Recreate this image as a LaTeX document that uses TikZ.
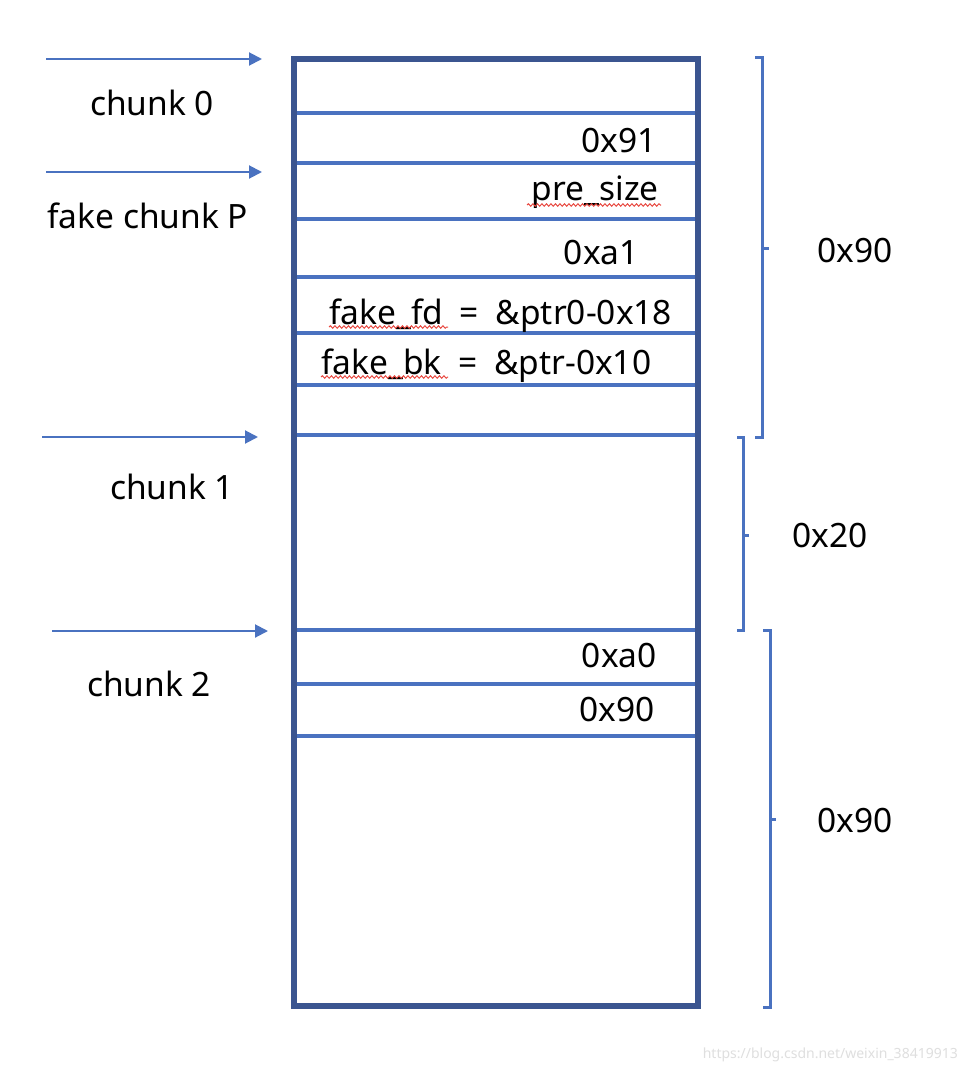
\documentclass[tikz,border=0pt]{standalone}
\usepackage{fontspec}
\setmainfont{Noto Sans}
\usetikzlibrary{arrows.meta,decorations.pathmorphing}
\definecolor{boxblue}{HTML}{3B5590}
\definecolor{lineblue}{HTML}{4A72C0}
\definecolor{squig}{HTML}{E8473F}
\begin{document}
\begin{tikzpicture}[x=1pt,y=-1pt,
  lbl/.style={inner sep=0pt, font=\fontsize{33.5}{40}\selectfont},
  sep/.style={draw=lineblue, line width=3.5pt},
  ptr/.style={draw=lineblue, line width=2pt, -{Triangle[length=13pt,width=13pt]}},
  brk/.style={draw=lineblue, line width=3pt},
  squiggle/.style={draw=squig, line width=1pt, decorate, decoration={snake, amplitude=1.2pt, segment length=4.5pt}}]
\useasboundingbox (0,0) rectangle (968,1070);
\fill[white] (0,0) rectangle (968,1070);
% separators
\foreach \yy [count=\i] in {113,163,219,277,333,385,435,630,684,736} {
  \coordinate (L\i) at (294,\yy);
  \coordinate (R\i) at (697,\yy);
  \draw[sep] (L\i) -- (R\i);
}
% outer box
\node[draw=boxblue, line width=5.5pt, minimum width=404pt, minimum height=947pt, inner sep=0pt, outer sep=0pt, anchor=north west] (mem) at (294,59) {};
% cell texts
\node[lbl, anchor=base east] (v91) at (657,153) {0x91};
\node[lbl, anchor=base east] (presz) at (659,200) {pre\_size};
\node[lbl, anchor=base east] (va1) at (639,264) {0xa1};
\node[lbl, anchor=base west] (ffd) at (329,324) {fake\_fd\hspace{8pt} =\hspace{8pt} \&ptr0-0x18};
\node[lbl, anchor=base west] (fbk) at (321,374) {fake\_bk\hspace{8pt} =\hspace{8pt} \&ptr-0x10};
\node[lbl, anchor=base east] (va0) at (657,667) {0xa0};
\node[lbl, anchor=base east] (v90) at (655,721) {0x90};
% squiggles
\coordinate (s1a) at (527,205); \coordinate (s1b) at (661,205);
\coordinate (s2a) at (329,327); \coordinate (s2b) at (448,327);
\coordinate (s3a) at (321,377); \coordinate (s3b) at (448,377);
\draw[squiggle] (s1a) -- (s1b);
\draw[squiggle] (s2a) -- (s2b);
\draw[squiggle] (s3a) -- (s3b);
% pointers
\coordinate (a0s) at (46,59);  \coordinate (a0e) at (262,59);
\coordinate (aPs) at (46,172); \coordinate (aPe) at (262,172);
\coordinate (a1s) at (42,437); \coordinate (a1e) at (258,437);
\coordinate (a2s) at (52,631); \coordinate (a2e) at (268,631);
\draw[ptr] (a0s) -- (a0e);
\draw[ptr] (aPs) -- (aPe);
\draw[ptr] (a1s) -- (a1e);
\draw[ptr] (a2s) -- (a2e);
\node[lbl, anchor=base west] (c0) at (90,116) {chunk 0};
\node[lbl, anchor=base west] (cP) at (47,228) {fake chunk P};
\node[lbl, anchor=base west] (c1) at (110,499) {chunk 1};
\node[lbl, anchor=base west] (c2) at (87,696) {chunk 2};
% brackets
\draw[brk] (755,58) -- (762,58) -- (762,437) -- (755,437);
\draw[brk] (762,248) -- (769,248);
\draw[brk] (737,437) -- (743,437) -- (743,630) -- (737,630);
\draw[brk] (743,535) -- (749,535);
\draw[brk] (763,630) -- (770,630) -- (770,1007) -- (763,1007);
\draw[brk] (770,819) -- (776,819);
\node[lbl, anchor=base west] (s90a) at (817,262) {0x90};
\node[lbl, anchor=base west] (s20) at (792,547) {0x20};
\node[lbl, anchor=base west] (s90b) at (817,832) {0x90};
% watermark
\node[inner sep=0pt, anchor=base east, text=gray!25, font=\fontsize{14}{16}\selectfont] (wm) at (958,1058) {https://blog.csdn.net/weixin\_38419913};
\end{tikzpicture}
\end{document}
